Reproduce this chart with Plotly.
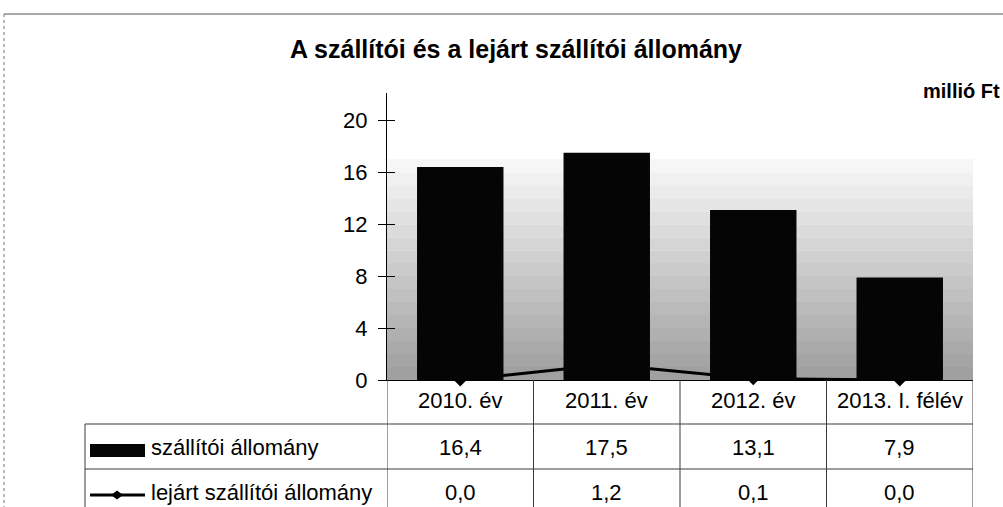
import plotly.graph_objects as go

W, H = 1003, 507

categories = ['2010. év', '2011. év', '2012. év', '2013. I. félév']
szallitoi = [16.4, 17.5, 13.1, 7.9]
lejart = [0.0, 1.2, 0.1, 0.0]
y_ticks = [0, 4, 8, 12, 16, 20]
series_names = ['szállítói állomány', 'lejárt szállítói állomány']

TITLE = 'A szállítói és a lejárt szállítói állomány'
UNIT = 'millió Ft'
FONT = 'Liberation Sans, Arial, sans-serif'
LINE_COLOR = '#3a3a3a'
TXT = 22

# pixel layout of the scanned page
PLOT_L, PLOT_R = 387, 973
PLOT_T, PLOT_B = 93, 380
TABLE_L = 85
ROW_LINES = [424, 469]
ROW_MID = [400, 447, 492]
Y_MAX = 22.1


def px(x):
    return x / W


def py(y):
    return 1 - y / H


def hu(v):
    return f'{v:.1f}'.replace('.', ',')


fig = go.Figure()

# line goes on the base axis so the bars (overlaying axis) sit on top of it
fig.add_trace(go.Scatter(
    x=categories, y=lejart,
    mode='lines+markers',
    name=series_names[1],
    line=dict(color='black', width=3),
    marker=dict(symbol='diamond', size=10, color='black'),
    cliponaxis=False,
    xaxis='x', yaxis='y'
))
fig.add_trace(go.Bar(
    x=categories, y=szallitoi,
    name=series_names[0],
    marker=dict(color='#050505', line=dict(width=0)),
    width=0.59,
    xaxis='x', yaxis='y2'
))

shapes = []

# dithered grey background of the plot area, approximated by bands
bands = 17
for i in range(bands):
    t = i / (bands - 1)
    g = int(160 + (246 - 160) * t)
    shapes.append(dict(
        type='rect', xref='x', yref='y', layer='below',
        x0=-0.5, x1=3.5, y0=i, y1=i + 1,
        fillcolor=f'rgb({g},{g},{g})', line=dict(width=0)
    ))

# outer frame of the scanned box
shapes.append(dict(type='line', xref='paper', yref='paper',
                   x0=px(4), x1=1, y0=py(14), y1=py(14),
                   line=dict(color='#555', width=1)))
shapes.append(dict(type='line', xref='paper', yref='paper',
                   x0=px(4), x1=px(4), y0=py(14), y1=0,
                   line=dict(color='#777', width=1, dash='dot')))

# data table grid
for b in [-0.5, 0.5, 1.5, 2.5, 3.5]:
    shapes.append(dict(type='line', xref='x', yref='paper',
                       x0=b, x1=b, y0=py(PLOT_B), y1=0,
                       line=dict(color=LINE_COLOR, width=1)))
for r in ROW_LINES:
    shapes.append(dict(type='line', xref='paper', yref='paper',
                       x0=px(TABLE_L), x1=px(PLOT_R), y0=py(r), y1=py(r),
                       line=dict(color=LINE_COLOR, width=1)))
shapes.append(dict(type='line', xref='paper', yref='paper',
                   x0=px(TABLE_L), x1=px(TABLE_L), y0=py(ROW_LINES[0]), y1=0,
                   line=dict(color=LINE_COLOR, width=1)))

# legend keys inside the table
shapes.append(dict(type='rect', xref='paper', yref='paper',
                   x0=px(90), x1=px(145), y0=py(457), y1=py(444),
                   fillcolor='#050505', line=dict(width=0)))
key_y = 495
shapes.append(dict(type='line', xref='paper', yref='paper',
                   x0=px(90), x1=px(145), y0=py(key_y), y1=py(key_y),
                   line=dict(color='black', width=3)))
cx, dx, dy = 117, 6, 4.5
shapes.append(dict(type='path', xref='paper', yref='paper',
                   path=f'M {px(cx - dx)},{py(key_y)} L {px(cx)},{py(key_y - dy)} '
                        f'L {px(cx + dx)},{py(key_y)} L {px(cx)},{py(key_y + dy)} Z',
                   fillcolor='black', line=dict(width=0)))

annotations = [
    dict(text=f'<b>{TITLE}</b>', xref='paper', yref='paper',
         x=px(516), y=py(49), xanchor='center', yanchor='middle', showarrow=False,
         font=dict(size=25, color='black', family=FONT)),
    dict(text=f'<b>{UNIT}</b>', xref='paper', yref='paper',
         x=px(1002), y=py(91), xanchor='right', yanchor='middle', showarrow=False,
         font=dict(size=20, color='black', family=FONT)),
]
for i, c in enumerate(categories):
    for txt, row in [(c, ROW_MID[0]), (hu(szallitoi[i]), ROW_MID[1]), (hu(lejart[i]), ROW_MID[2])]:
        annotations.append(dict(text=txt, xref='x', yref='paper', x=i, y=py(row),
                                xanchor='center', yanchor='middle', showarrow=False,
                                font=dict(size=TXT, color='black', family=FONT)))
for name, row in zip(series_names, ROW_MID[1:]):
    annotations.append(dict(text=name, xref='paper', yref='paper', x=px(149), y=py(row),
                            xanchor='left', yanchor='middle', showarrow=False,
                            font=dict(size=TXT, color='black', family=FONT)))

fig.update_layout(
    width=W, height=H, autosize=False,
    margin=dict(l=0, r=0, t=0, b=0, autoexpand=False),
    paper_bgcolor='white',
    plot_bgcolor='rgba(0,0,0,0)',
    showlegend=False,
    font=dict(family=FONT, size=TXT, color='black'),
    xaxis=dict(domain=[px(PLOT_L), px(PLOT_R)], range=[-0.5, 3.5],
               showticklabels=False, ticks='', showgrid=False,
               showline=True, linecolor='black', linewidth=1, zeroline=False),
    yaxis=dict(domain=[py(PLOT_B), py(PLOT_T)], range=[0, Y_MAX],
               tickvals=y_ticks, ticks='outside', ticklen=8, tickcolor='black',
               ticklabelstandoff=6, automargin=False,
               showline=True, linecolor='black', linewidth=1,
               showgrid=False, zeroline=False,
               tickfont=dict(size=TXT, color='black', family=FONT)),
    # second axis only carries the bars and the inner half of the crossing ticks
    yaxis2=dict(overlaying='y', range=[0, Y_MAX], side='left',
                tickvals=y_ticks, ticks='inside', ticklen=8, tickcolor='black',
                showticklabels=False, showline=False, showgrid=False, zeroline=False),
    shapes=shapes,
    annotations=annotations,
)

fig.write_html(
    'out.html',
    config={'displayModeBar': False, 'responsive': False},
    post_script="document.body.style.margin='0';",
)
